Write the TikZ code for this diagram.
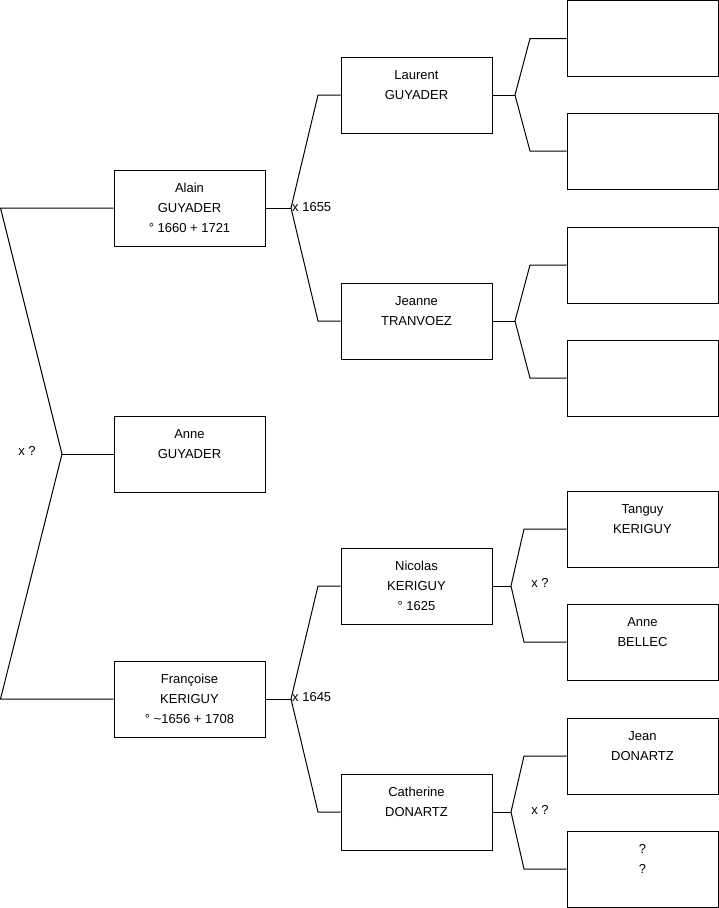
\documentclass[tikz,border=0pt]{standalone}
\usepackage{fontspec}
\setmainfont{Liberation Sans}
\usetikzlibrary{positioning}

\begin{document}
\begin{tikzpicture}[
    x=1pt, y=-1pt,
    person/.style={draw, rectangle, line width=1pt, minimum width=151pt, minimum height=76pt,
                   inner sep=0pt, align=center, font=\fontsize{13}{20}\selectfont},
    link/.style={line width=1pt},
    tag/.style={font=\fontsize{13}{16}\selectfont, inner sep=1pt}
]
\useasboundingbox (0,0) rectangle (719,908);

% generation 1
\node[person] (alain) at (189.5,208) {Alain\\GUYADER\\° 1660 + 1721};
\node[person] (anneg) at (189.5,454) {Anne\\GUYADER\\~};
\node[person] (francoise) at (189.5,699) {Françoise\\KERIGUY\\° \textasciitilde1656 + 1708};

% generation 2
\node[person] (laurent) at (416.5,95) {Laurent\\GUYADER\\~};
\node[person] (jeanne) at (416.5,321) {Jeanne\\TRANVOEZ\\~};
\node[person] (nicolas) at (416.5,586) {Nicolas\\KERIGUY\\° 1625};
\node[person] (catherine) at (416.5,812) {Catherine\\DONARTZ\\~};

% generation 3
\node[person] (gp1) at (642.5,38.5) {};
\node[person] (gp2) at (642.5,151) {};
\node[person] (gp3) at (642.5,265) {};
\node[person] (gp4) at (642.5,378) {};
\node[person] (tanguy) at (642.5,529) {Tanguy\\KERIGUY\\~};
\node[person] (anneb) at (642.5,642) {Anne\\BELLEC\\~};
\node[person] (jean) at (642.5,756) {Jean\\DONARTZ\\~};
\node[person] (unknown) at (642.5,869) {?\\?\\~};

% fork points
\coordinate (l1) at (0.5,208);
\coordinate (l0) at (62,454);
\coordinate (l2) at (0.5,699);
\coordinate (a0) at (291,208);
\coordinate (a1) at (318,95);
\coordinate (a2) at (318,321);
\coordinate (f0) at (291,699);
\coordinate (f1) at (318,586);
\coordinate (f2) at (318,812);
\coordinate (b0) at (515,95);
\coordinate (b1) at (530,38.5);
\coordinate (b2) at (530,151);
\coordinate (c0) at (515,321);
\coordinate (c1) at (530,265);
\coordinate (c2) at (530,378);
\coordinate (d0) at (511,586);
\coordinate (d1) at (524,529);
\coordinate (d2) at (524,642);
\coordinate (e0) at (511,812);
\coordinate (e1) at (524,756);
\coordinate (e2) at (524,869);

% connectors
\draw[link] (alain.west) -- (l1) -- (l0) -- (l2) -- (francoise.west);
\draw[link] (l0) -- (anneg.west);

\draw[link] (alain.east) -- (a0);
\draw[link] (laurent.west) -- (a1) -- (a0) -- (a2) -- (jeanne.west);
\draw[link] (francoise.east) -- (f0);
\draw[link] (nicolas.west) -- (f1) -- (f0) -- (f2) -- (catherine.west);

\draw[link] (laurent.east) -- (b0);
\draw[link] (gp1.west) -- (b1) -- (b0) -- (b2) -- (gp2.west);
\draw[link] (jeanne.east) -- (c0);
\draw[link] (gp3.west) -- (c1) -- (c0) -- (c2) -- (gp4.west);
\draw[link] (nicolas.east) -- (d0);
\draw[link] (tanguy.west) -- (d1) -- (d0) -- (d2) -- (anneb.west);
\draw[link] (catherine.east) -- (e0);
\draw[link] (jean.west) -- (e1) -- (e0) -- (e2) -- (unknown.west);

% marriage labels
\node[tag] (m0) at (27,451) {x ?};
\node[tag, anchor=west] (m1) at (291,207) {x 1655};
\node[tag, anchor=west] (m2) at (291,697) {x 1645};
\node[tag] (m3) at (540,583) {x ?};
\node[tag] (m4) at (540,810) {x ?};
\end{tikzpicture}
\end{document}
